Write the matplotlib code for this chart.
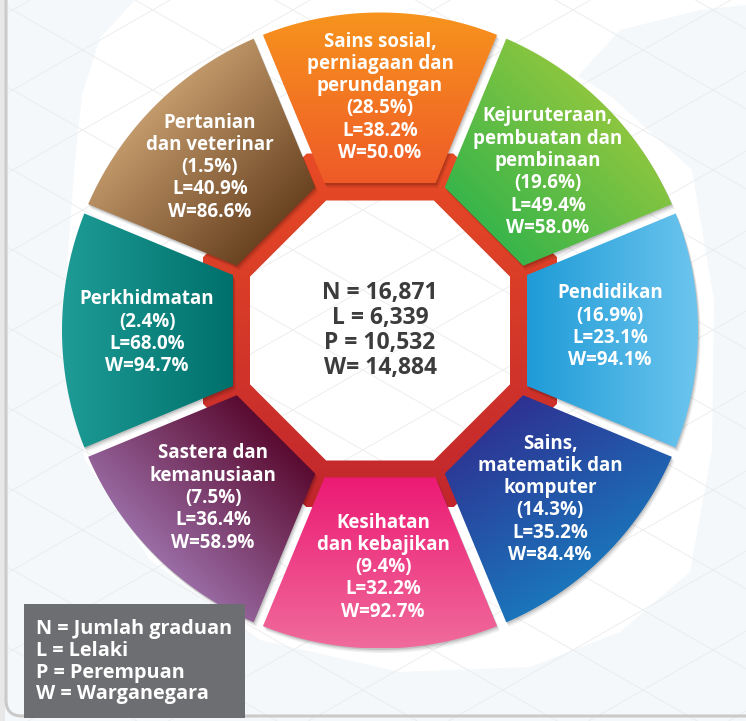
import numpy as np
import matplotlib

matplotlib.use("Agg")
import matplotlib.pyplot as plt
from matplotlib.colors import to_rgb
from matplotlib.patches import Polygon, PathPatch, Rectangle, FancyBboxPatch
from matplotlib.path import Path

plt.rcParams["font.family"] = ["Open Sans", "DejaVu Sans"]

# Data (clockwise from the top segment)
categories = [
    ["Sains sosial,", "perniagaan dan", "perundangan"],
    ["Kejuruteraan,", "pembuatan dan", "pembinaan"],
    ["Pendidikan"],
    ["Sains,", "matematik dan", "komputer"],
    ["Kesihatan", "dan kebajikan"],
    ["Sastera dan", "kemanusiaan"],
    ["Perkhidmatan"],
    ["Pertanian", "dan veterinar"],
]
share_pct = [28.5, 19.6, 16.9, 14.3, 9.4, 7.5, 2.4, 1.5]
lelaki_pct = [38.2, 49.4, 23.1, 35.2, 32.2, 36.4, 68.0, 40.9]
warga_pct = [50.0, 58.0, 94.1, 84.4, 92.7, 58.9, 94.7, 86.6]
totals_labels = ["N", "L", "P", "W"]
totals = [16871, 6339, 10532, 14884]
legend_lines = ["N = Jumlah graduan", "L = Lelaki", "P = Perempuan", "W = Warganegara"]

# colour pairs for the gradients and their direction (image coords, y down)
seg_colors = [
    ("#F7941D", "#EF5A28", (0, 1)),
    ("#8DC63F", "#39B54A", (-1, 1)),
    ("#1F9BD7", "#6CC5EE", (1, 0)),
    ("#2E3192", "#1B75BB", (0.6, 1)),
    ("#EC1A74", "#F06B9B", (0, 1)),
    ("#5A0B30", "#9A6CA5", (-1, 1)),
    ("#1E9C96", "#00706B", (1, 0)),
    ("#C39A6B", "#6A4322", (1, 1)),
]
# text block anchors: (x centre, first line centre y)
text_pos = [(380, 40), (548, 115), (610, 292), (550, 442),
            (383, 521), (213, 452), (147, 298), (210, 121)]

W_PX, H_PX = 746, 721
C = np.array([380.0, 330.5])
R_OUT, A_SEG, GAP = 318, 147, 5
A_RED_OUT, A_RED_IN = 177, 130
HALF = np.radians(22.5)


def to_img(t, s, theta):
    u = np.array([np.sin(theta), -np.cos(theta)])
    v = np.array([np.cos(theta), np.sin(theta)])
    return C + np.outer(t, u) + np.outer(s, v)


def segment_poly(theta):
    k, b = np.tan(HALF), GAP / np.cos(HALF)
    s_in = A_SEG * k - b
    qa, qb, qc = k * k + 1, -2 * k * b, b * b - R_OUT ** 2
    t_out = (-qb + np.sqrt(qb * qb - 4 * qa * qc)) / (2 * qa)
    s_out = t_out * k - b
    phi = np.arctan2(s_out, t_out)
    arc = np.linspace(phi, -phi, 60)
    t = np.concatenate([[A_SEG, A_SEG], R_OUT * np.cos(arc)])
    s = np.concatenate([[-s_in, s_in], R_OUT * np.sin(arc)])
    return to_img(t, s, theta)


def octagon(apothem):
    r = apothem / np.cos(HALF)
    ang = np.radians(22.5 + 45 * np.arange(8))
    return C + r * np.column_stack([np.sin(ang), -np.cos(ang)])


def grad_fill(ax, path, c1, c2, d, zorder):
    patch = PathPatch(path, fc="none", ec="none")
    ax.add_patch(patch)
    xy = path.vertices
    x0, y0 = xy.min(0)
    x1, y1 = xy.max(0)
    X, Y = np.meshgrid(np.linspace(x0, x1, 300), np.linspace(y0, y1, 300))
    d = np.array(d, float) / np.hypot(*d)
    proj = X * d[0] + Y * d[1]
    pv = xy @ d
    t = np.clip((proj - pv.min()) / (pv.max() - pv.min()), 0, 1)[..., None]
    rgb = (1 - t) * np.array(to_rgb(c1)) + t * np.array(to_rgb(c2))
    im = ax.imshow(rgb, extent=(x0, x1, y1, y0), origin="upper",
                   interpolation="bilinear", aspect="auto", zorder=zorder)
    im.set_clip_path(patch)


fig = plt.figure(figsize=(W_PX / 100, H_PX / 100), dpi=100)
fig.patch.set_facecolor("#F4F8FB")
ax = fig.add_axes([0, 0, 1, 1])
ax.set_axis_off()

# Background: white blob, faint diamond grid, card border
blob = [(135, 0), (100, 38), (82, 95), (75, 160), (62, 330), (85, 460), (150, 560),
        (260, 640), (400, 672), (530, 667), (620, 632), (690, 572), (712, 450),
        (714, 300), (692, 170), (612, 97), (578, 76), (620, 30), (700, 10), (746, 5),
        (746, 0)]
ax.add_patch(Polygon(blob, closed=True, fc="white", ec="none", zorder=0))

xs = np.array([0, W_PX])
for kk in range(-20, 20):
    for sgn in (1, -1):
        ax.plot(xs, sgn * 0.571 * (xs - 643) + 610 + 80 * kk,
                color="#EAEBEC", lw=0.6, zorder=1)

ax.add_patch(FancyBboxPatch((6, -40), 820, 756, boxstyle="round,pad=0,rounding_size=16",
                            fc="none", ec="#CACACA", lw=2.2, zorder=1.5))
ax.add_patch(Rectangle((0, -5), 4.5, 730, fc="#E8E8E8", ec="none", zorder=1.4))

# Red octagon ring (outer part peeks through the gaps)
outer = octagon(A_RED_OUT)
inner = octagon(A_RED_IN)[::-1]
verts = np.concatenate([outer, outer[:1], inner, inner[:1]])
codes = ([Path.MOVETO] + [Path.LINETO] * 7 + [Path.CLOSEPOLY]) * 2
ring = Path(verts, codes)
grad_fill(ax, ring, "#E84B25", "#C1262D", (0, 1), zorder=2)

# Segments with soft shadow
for i in range(8):
    theta = np.radians(45 * i)
    xy = segment_poly(theta)
    for off, al in ((4.5, 0.06), (3, 0.08), (1.5, 0.12)):
        ax.add_patch(Polygon(xy + [off * 0.6, off], closed=True, fc="black",
                             ec="none", alpha=al, zorder=3))
    c1, c2, d = seg_colors[i]
    grad_fill(ax, Path(np.vstack([xy, xy[:1]]), closed=True), c1, c2, d, zorder=4)

# Segment labels
PITCH = 22.3
for i in range(8):
    lines = categories[i] + [f"({share_pct[i]:.1f}%)", f"L={lelaki_pct[i]:.1f}%",
                             f"W={warga_pct[i]:.1f}%"]
    x, y0 = text_pos[i]
    for j, line in enumerate(lines):
        ax.text(x, y0 + j * PITCH + 6.5, line, ha="center", va="baseline",
                fontsize=13.5, fontweight="bold", color="white", zorder=6)

# Centre totals
for j, (lab, val) in enumerate(zip(totals_labels, totals)):
    sep = "= " if lab == "W" else " = "
    ax.text(380, 290 + j * 25.3 + 8.5, f"{lab}{sep}{val:,}", ha="center", va="baseline",
            fontsize=16.5, fontweight="bold", color="#3C3C3C", zorder=6)

# Legend box
ax.add_patch(Rectangle((24, 604), 221, 114, fc="#6D6E71", ec="none", zorder=5))
for j, line in enumerate(legend_lines):
    ax.text(36, 627 + j * 21.8 + 7, line, ha="left", va="baseline",
            fontsize=14.3, fontweight="bold", color="white", zorder=6)

ax.set_xlim(0, W_PX)
ax.set_ylim(H_PX, 0)
fig.savefig("out.png", dpi=100, facecolor=fig.get_facecolor())
plt.close(fig)
